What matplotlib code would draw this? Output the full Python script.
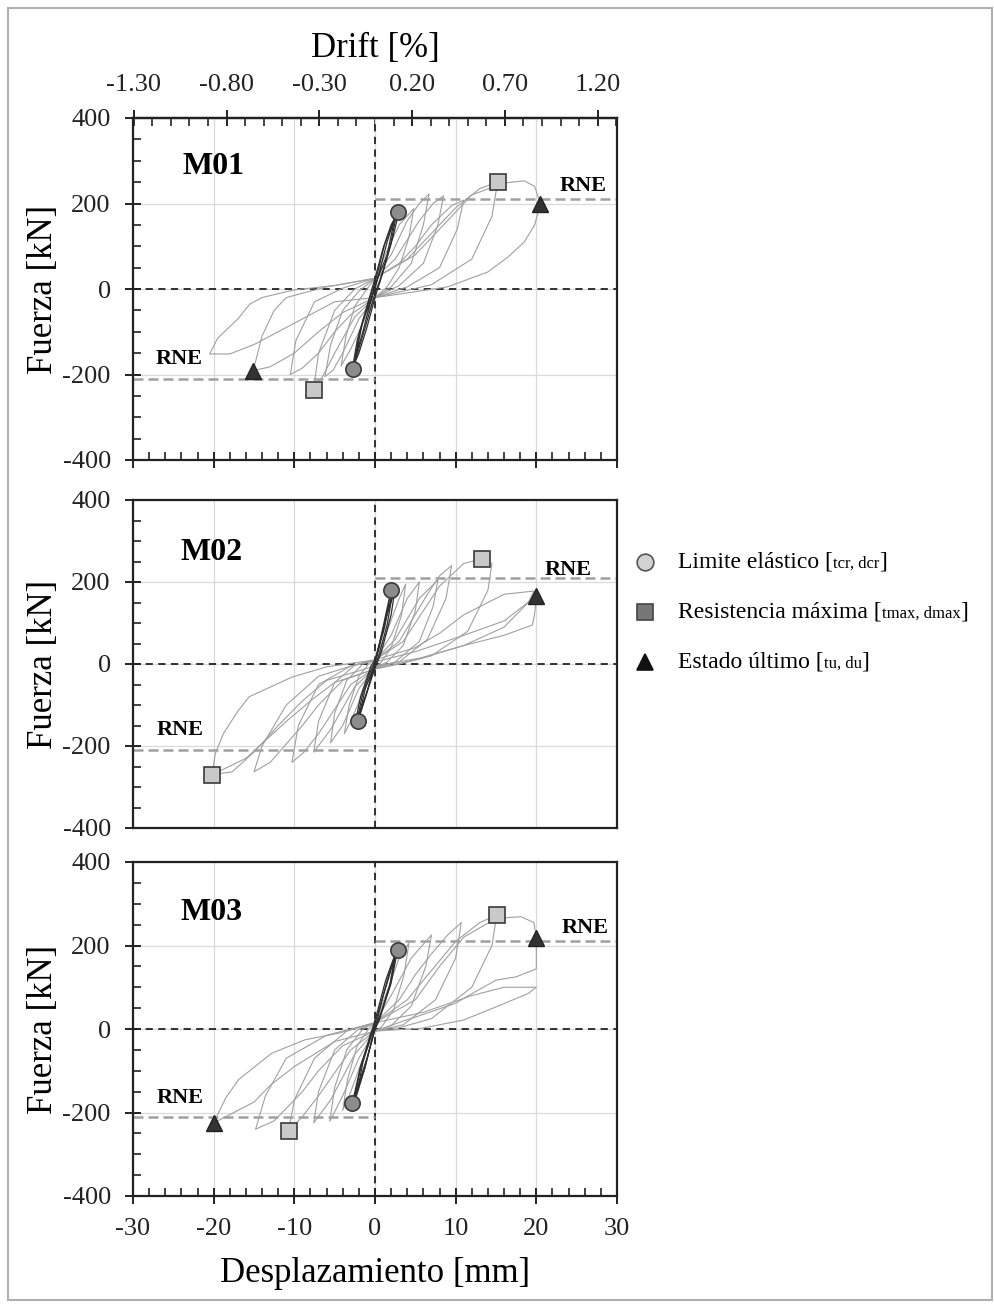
import numpy as np
import matplotlib.pyplot as plt
from matplotlib.ticker import MultipleLocator, FormatStrFormatter
from matplotlib.patches import Rectangle

plt.rcParams['font.family'] = ['Liberation Serif', 'DejaVu Serif']
plt.rcParams['axes.unicode_minus'] = False

# --- data ----------------------------------------------------------------
h_drift = 23.0      # mm of displacement per 1 % drift
rne = 210           # RNE force level [kN]

panel_names = ['M01', 'M02', 'M03']

# characteristic points (displacement mm, force kN)
circle_x = [[2.9, -2.7], [2.0, -2.1], [2.8, -2.8]]
circle_y = [[181, -186], [181, -139], [189, -177]]
square_x = [[15.2, -7.6], [13.3, -20.2], [15.1, -10.7]]
square_y = [[250, -236], [257, -270], [273, -244]]
triangle_x = [[20.5, -15.1], [20.0], [20.0, -20.0]]
triangle_y = [[199, -191], [166], [217, -225]]

# hysteresis cycles, small (dark) ones first
m01_dark = [
    [(0, 0), (1.5, 110), (2.5, 170), (1.5, 80), (0, 10), (-1.5, -100), (-2.5, -165), (-1.5, -75), (0, 0)],
    [(0, 25), (1, 95), (2, 150), (3, 183), (2.2, 120), (1, 40), (0, -20), (-1, -90), (-2, -150),
     (-2.8, -186), (-2.2, -120), (-1, -40), (0, 25)],
    [(0, 15), (1.2, 105), (2.7, 178), (1.9, 100), (0.6, 20), (0, -10), (-1.3, -95), (-2.6, -178),
     (-1.9, -100), (-0.6, -20), (0, 15)],
]
m01_loops = [
    [(0, 25), (1.5, 90), (3, 150), (4.8, 188), (4.2, 120), (3, 50), (1.5, 5), (0, -20), (-1.5, -80),
     (-3, -140), (-4.2, -180), (-3.6, -110), (-2.5, -40), (-1, 0), (0, 25)],
    [(0, 25), (2, 80), (4, 160), (5.5, 200), (6.7, 222), (6, 150), (4.5, 60), (2, 5), (0, -20),
     (-2, -70), (-4, -150), (-5.2, -190), (-6.2, -205), (-5.5, -130), (-4, -50), (-2, -5), (0, 25)],
    [(0, 25), (2.5, 70), (5.5, 160), (7.2, 200), (8.5, 218), (7.8, 150), (6, 60), (3, 8), (0, -20),
     (-2.5, -65), (-5, -150), (-6.5, -205), (-7.6, -232), (-7, -150), (-5, -50), (-2.5, 0), (0, 25)],
    [(0, 25), (3, 60), (5, 100), (7, 150), (9.5, 195), (11, 208), (10.2, 140), (8, 50), (4, 5),
     (0, -20), (-3, -60), (-5, -100), (-7, -150), (-9, -185), (-10.5, -200), (-9.8, -120),
     (-7.5, -30), (-4, 2), (0, 25)],
    [(0, 25), (4, 70), (7, 130), (10, 190), (13, 235), (15.2, 250), (14.5, 170), (12, 70), (7, 10),
     (0, -20), (-4, -55), (-7, -100), (-10, -150), (-13, -182), (-15.1, -191), (-14, -110),
     (-12.5, -50), (-11, -20), (-6, 5), (0, 25)],
    [(0, 25), (5, 80), (9, 160), (12, 220), (16, 248), (18.5, 253), (19.8, 240), (20.5, 199),
     (19.8, 150), (18.5, 110), (16.5, 75), (14, 40), (9, 5), (3, -12), (0, -20), (-5, -30),
     (-10, -80), (-15, -130), (-18, -152), (-20.5, -152), (-19.5, -115), (-17, -70), (-15.5, -35),
     (-14, -20), (-10, -2), (-5, 8), (0, 25)],
]

m02_dark = [
    [(0, 0), (1, 90), (2, 181), (1.2, 90), (0, 5), (-1, -70), (-2.1, -139), (-1.2, -60), (0, 0)],
    [(0, 10), (1.5, 120), (2.5, 185), (2, 120), (0.8, 30), (0, -10), (-1.2, -80), (-2.5, -150),
     (-1.8, -80), (-0.5, -5), (0, 10)],
    [(0, 5), (1.2, 100), (2.2, 175), (1.5, 95), (0.4, 15), (0, -5), (-1.1, -75), (-2.3, -145),
     (-1.5, -70), (-0.4, -10), (0, 5)],
]
m02_loops = [
    [(0, 10), (1.5, 80), (3, 160), (3.8, 195), (3.3, 120), (2, 40), (0.8, 5), (0, -10), (-1.5, -70),
     (-3, -140), (-3.8, -170), (-3.2, -100), (-2, -30), (-0.8, 0), (0, 10)],
    [(0, 10), (2, 70), (4, 160), (5.5, 200), (5, 130), (3.5, 45), (1.5, 5), (0, -10), (-2, -60),
     (-4, -150), (-5.5, -192), (-5, -120), (-3.5, -40), (-1.5, 0), (0, 10)],
    [(0, 10), (2.5, 60), (5.5, 160), (7.8, 205), (7.2, 140), (5.5, 55), (2.5, 5), (0, -10),
     (-2.5, -55), (-5.5, -160), (-7.6, -215), (-7, -140), (-5, -45), (-2.5, -3), (0, 10)],
    [(0, 10), (3, 55), (6.5, 170), (8, 215), (9.5, 240), (8.8, 160), (6.5, 60), (3, 5), (0, -10),
     (-3, -50), (-7, -170), (-8.8, -215), (-10.3, -240), (-9.5, -150), (-7, -50), (-3, -5), (0, 10)],
    [(0, 10), (3.5, 55), (6, 130), (8, 190), (11, 245), (13.3, 257), (14.5, 245), (14, 180),
     (11.5, 80), (7, 20), (3, 0), (0, -12), (-4, -40), (-7, -100), (-9, -150), (-13, -240),
     (-15, -263), (-14, -200), (-11, -100), (-7, -30), (-3, -5), (0, 10)],
    [(0, 10), (5, 40), (8, 75), (11, 120), (16, 170), (19.7, 178), (19, 150), (16, 90), (11, 45),
     (5, 10), (0, -12), (-5, -45), (-8, -90), (-11, -140), (-16, -230), (-20.2, -270), (-19.8, -219),
     (-18.8, -170), (-17, -115), (-15.6, -80), (-10.3, -32), (-6, -7), (0, 10)],
    [(0, 5), (5, 30), (11, 70), (16, 105), (20, 166), (19.8, 123), (19.5, 95), (16, 70), (11, 45),
     (5.7, 15), (0, -5), (-6, -40), (-9, -90), (-12, -150), (-15, -215), (-17.7, -263), (-20.2, -270)],
]

m03_dark = [
    [(0, 0), (1, 80), (2, 150), (2.8, 189), (2, 110), (0.5, 20), (0, 0), (-1, -70), (-2, -130),
     (-2.8, -177), (-1.8, -90), (-0.5, -15), (0, 0)],
    [(0, 15), (1.5, 110), (2.5, 175), (1.8, 100), (0.5, 25), (0, 5), (-1.2, -90), (-2.3, -160),
     (-1.5, -80), (-0.3, -5), (0, 15)],
    [(0, 20), (1.3, 115), (2.6, 185), (1.9, 110), (0.7, 35), (0, 0), (-1.3, -95), (-2.6, -172),
     (-1.8, -95), (-0.6, -15), (0, 20)],
]
m03_loops = [
    [(0, 15), (1.5, 90), (3, 170), (4.2, 205), (3.6, 130), (2.3, 45), (0.8, 5), (0, -5), (-1.5, -70),
     (-3, -150), (-4, -195), (-3.4, -120), (-2.2, -40), (-0.8, 0), (0, 15)],
    [(0, 15), (2, 80), (4.5, 170), (7, 225), (6.3, 150), (4.5, 55), (2, 8), (0, -5), (-2, -70),
     (-4, -160), (-5.6, -221), (-5, -140), (-3.5, -50), (-1.5, 0), (0, 15)],
    [(0, 15), (3, 70), (5, 130), (7, 180), (9, 225), (10.7, 255), (10, 170), (7.5, 70), (3.5, 10),
     (0, -5), (-2.5, -60), (-5.5, -170), (-7.6, -225), (-7, -150), (-5, -50), (-2, 0), (0, 15)],
    [(0, 15), (4, 70), (7, 140), (10, 210), (13, 255), (15.1, 273), (14.5, 200), (12, 100), (7, 25),
     (3, 3), (0, -5), (-3, -50), (-7, -160), (-9, -210), (-10.7, -244), (-10, -170), (-7.5, -70),
     (-3.5, -5), (0, 15)],
    [(0, 15), (5, 70), (8, 150), (11, 220), (15, 265), (18.1, 269), (19.7, 255), (20, 217), (20, 144),
     (17.5, 125), (15, 117), (12.5, 90), (9.9, 61), (6, 35), (3.2, 17), (0, -5), (-4, -40), (-7, -100),
     (-9, -150), (-12.5, -220), (-14.8, -240), (-13.6, -161), (-11, -70), (-6, -15), (0, 15)],
    [(0, 15), (6, 40), (12, 80), (16, 100), (20, 100), (19, 85), (14, 45), (10.9, 21), (5.8, 2),
     (0, -5), (-5, -30), (-10, -90), (-13, -135), (-15, -175), (-20, -225), (-18.5, -165),
     (-16.9, -121), (-12.8, -58), (-8.7, -26), (-4.5, -10), (0, 15)],
]

dark_sets = [m01_dark, m02_dark, m03_dark]
loop_sets = [m01_loops, m02_loops, m03_loops]

# label positions (data coords): panel name, upper RNE, lower RNE
name_pos = [(-20.0, 286), (-20.2, 273), (-20.3, 279)]
rne_up_pos = [(25.8, 241), (23.9, 230), (26.1, 242)]
rne_lo_pos = [(-24.3, -163), (-24.2, -160), (-24.1, -165)]

legend_labels = [('Limite elástico [', 'tcr, dcr', ']'),
                 ('Resistencia máxima [', 'tmax, dmax', ']'),
                 ('Estado último [', 'tu, du', ']')]

# --- figure ----------------------------------------------------------------
W, H = 995, 1304
fig = plt.figure(figsize=(W / 100, H / 100), dpi=100)

ax_px = [(118, 460), (500, 828), (862, 1196)]   # top / bottom pixel rows of each axes
left_px, right_px = 133, 617

axes = []
for i, (t, b) in enumerate(ax_px):
    ax = fig.add_axes([left_px / W, 1 - b / H, (right_px - left_px) / W, (b - t) / H])
    axes.append(ax)
    ax.set_xlim(-30, 30)
    ax.set_ylim(-400, 400)
    ax.xaxis.set_major_locator(MultipleLocator(10))
    ax.xaxis.set_minor_locator(MultipleLocator(2))
    ax.yaxis.set_major_locator(MultipleLocator(200))
    ax.yaxis.set_minor_locator(MultipleLocator(50))
    ax.grid(True, which='major', color='#dadada', lw=0.9, zorder=0)
    for s in ax.spines.values():
        s.set_linewidth(1.6)
        s.set_color('#222222')

    ax.tick_params(axis='y', which='major', direction='inout', length=12, width=1.4,
                   labelsize=19, pad=10, colors='#222222')
    ax.tick_params(axis='y', which='minor', direction='in', length=6, width=1.2, colors='#222222')
    if i == 1:
        ax.tick_params(axis='x', which='both', length=0, labelbottom=False)
    else:
        ax.tick_params(axis='x', which='major', direction='inout', length=12, width=1.4,
                       labelsize=19, pad=10, colors='#222222')
        ax.tick_params(axis='x', which='minor', direction='in', length=6, width=1.2, colors='#222222')
    if i == 0:
        ax.tick_params(axis='x', labelbottom=False)

    ax.set_ylabel('Fuerza [kN]', fontsize=25, labelpad=2)

    # reference lines
    ax.axhline(0, color='#222222', lw=1.3, ls=(0, (4, 3)), zorder=2)
    ax.axvline(0, color='#222222', lw=1.3, ls=(0, (4, 3)), zorder=2)
    ax.plot([0, 30], [rne, rne], color='#a0a0a0', lw=1.8, ls=(0, (4, 2)), zorder=2)
    ax.plot([-30, 0], [-rne, -rne], color='#a0a0a0', lw=1.8, ls=(0, (4, 2)), zorder=2)

    # hysteresis
    for loop in loop_sets[i]:
        xs, ys = zip(*loop)
        ax.plot(xs, ys, color='#a0a0a0', lw=0.8, zorder=3)
    for loop in dark_sets[i]:
        xs, ys = zip(*loop)
        ax.plot(xs, ys, color='#2e2e2e', lw=0.9, zorder=3)

    # characteristic points
    ax.plot(circle_x[i], circle_y[i], 'o', ms=11, mfc='#8c8c8c', mec='#3a3a3a', mew=1.2, zorder=5)
    ax.plot(square_x[i], square_y[i], 's', ms=11, mfc='#c9c9c9', mec='#3a3a3a', mew=1.2, zorder=5)
    ax.plot(triangle_x[i], triangle_y[i], '^', ms=11, mfc='#333333', mec='#222222', mew=1.0, zorder=5)

    ax.text(*name_pos[i], panel_names[i], fontsize=23, fontweight='bold', ha='center', va='center')
    ax.text(*rne_up_pos[i], 'RNE', fontsize=16, fontweight='bold', ha='center', va='center')
    ax.text(*rne_lo_pos[i], 'RNE', fontsize=16, fontweight='bold', ha='center', va='center')

axes[2].set_xlabel('Desplazamiento [mm]', fontsize=25, labelpad=12)

# drift axis on top of the first panel
sec = axes[0].secondary_xaxis('top', functions=(lambda x: x / h_drift, lambda d: d * h_drift))
sec.set_xticks(np.arange(-1.3, 1.21, 0.5))
sec.xaxis.set_major_formatter(FormatStrFormatter('%.2f'))
sec.xaxis.set_minor_locator(MultipleLocator(0.1))
sec.tick_params(which='major', direction='inout', length=12, width=1.4, labelsize=19, pad=10,
                colors='#222222')
sec.tick_params(which='minor', direction='in', length=6, width=1.2, colors='#222222')
sec.spines['top'].set_linewidth(1.6)
sec.set_xlabel('Drift [%]', fontsize=25, labelpad=12)

# legend drawn at the right side
leg_marker_x = 645 / W
leg_text_x = 678 / W
leg_rows = [562, 612, 662]
leg_styles = [dict(marker='o', mfc='#d2d2d2', mec='#555555'),
              dict(marker='s', mfc='#777777', mec='#444444'),
              dict(marker='^', mfc='#111111', mec='#111111')]
fig.canvas.draw()
renderer = fig.canvas.get_renderer()
for row, style, (a, sub, c) in zip(leg_rows, leg_styles, legend_labels):
    y = 1 - row / H
    fig.add_artist(plt.Line2D([leg_marker_x], [y], transform=fig.transFigure, ls='none',
                              ms=12, mew=1.2, **style))
    x = leg_text_x
    for txt, fs in [(a, 17), (sub, 12), (c, 17)]:
        t = fig.text(x, y - 0.0045, txt, fontsize=fs, va='baseline')
        ext = t.get_window_extent(renderer)
        x = ext.x1 / W

# thin frame round the page
fig.add_artist(Rectangle((8 / W, 4 / H), (992 - 8) / W, (1296 - 4) / H, transform=fig.transFigure,
                         fill=False, ec='#b0b0b0', lw=1.5))

fig.savefig('out.png', dpi=100)
